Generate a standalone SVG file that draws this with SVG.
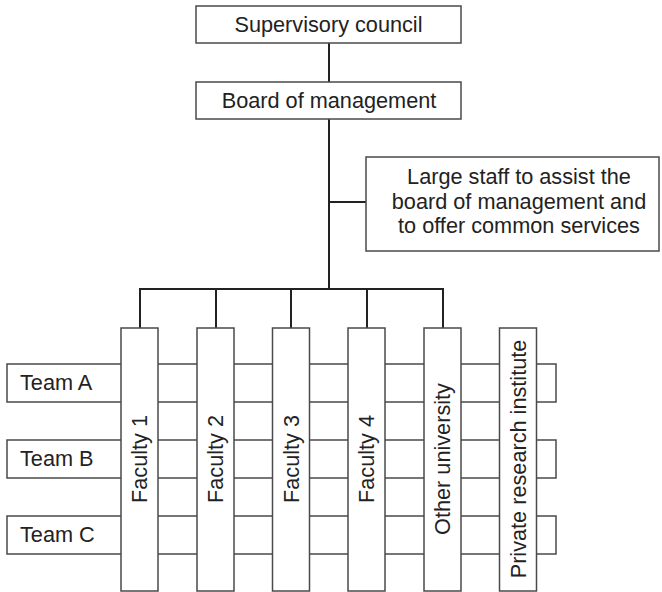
<svg xmlns="http://www.w3.org/2000/svg" width="662" height="592" viewBox="0 0 662 592">
  <style>
    .box { fill: #fff; stroke: #4a4a4a; stroke-width: 1.5; }
    .wire { fill: none; stroke: #222; stroke-width: 2; }
    .lbl { font-family: "Liberation Sans", Arial, sans-serif; font-size: 21.7px; fill: #222; }
    .mid { text-anchor: middle; }
  </style>
  <rect width="662" height="592" fill="#fff"/>

  <!-- hierarchy connectors -->
  <g id="connectors">
    <line class="wire" x1="329" y1="43" x2="329" y2="82"/>
    <line class="wire" x1="329" y1="119" x2="329" y2="289"/>
    <line class="wire" x1="329" y1="202" x2="366" y2="202"/>
    <polyline class="wire" points="140,328 140,289 443,289 443,328"/>
    <line class="wire" x1="216" y1="289" x2="216" y2="328"/>
    <line class="wire" x1="291" y1="289" x2="291" y2="328"/>
    <line class="wire" x1="367" y1="289" x2="367" y2="328"/>
  </g>

  <g id="supervisory-council">
    <rect class="box" x="196" y="6" width="265" height="37"/>
    <text class="lbl mid" x="328.5" y="32">Supervisory council</text>
  </g>

  <g id="board-of-management">
    <rect class="box" x="196" y="82" width="265" height="37"/>
    <text class="lbl mid" x="329" y="108">Board of management</text>
  </g>

  <g id="staff">
    <rect class="box" x="366" y="157" width="293" height="94"/>
    <text class="lbl mid" x="519" y="184">Large staff to assist the</text>
    <text class="lbl mid" x="519" y="208.5">board of management and</text>
    <text class="lbl mid" x="519" y="233">to offer common services</text>
  </g>

  <!-- team rows run behind the columns -->
  <g id="team-a">
    <rect class="box" x="7" y="364" width="549" height="38"/>
    <text class="lbl" x="20" y="390">Team A</text>
  </g>
  <g id="team-b">
    <rect class="box" x="7" y="440" width="549" height="38"/>
    <text class="lbl" x="20" y="466">Team B</text>
  </g>
  <g id="team-c">
    <rect class="box" x="7" y="516" width="549" height="38"/>
    <text class="lbl" x="20" y="542">Team C</text>
  </g>

  <!-- columns -->
  <g id="faculty-1">
    <rect class="box" x="121" y="328" width="37" height="263"/>
    <text class="lbl mid" transform="translate(147,459) rotate(-90)">Faculty 1</text>
  </g>
  <g id="faculty-2">
    <rect class="box" x="197" y="328" width="37" height="263"/>
    <text class="lbl mid" transform="translate(223,459) rotate(-90)">Faculty 2</text>
  </g>
  <g id="faculty-3">
    <rect class="box" x="272.5" y="328" width="37" height="263"/>
    <text class="lbl mid" transform="translate(298.5,459) rotate(-90)">Faculty 3</text>
  </g>
  <g id="faculty-4">
    <rect class="box" x="348" y="328" width="37" height="263"/>
    <text class="lbl mid" transform="translate(374,459) rotate(-90)">Faculty 4</text>
  </g>
  <g id="other-university">
    <rect class="box" x="424" y="328" width="37" height="263"/>
    <text class="lbl mid" transform="translate(450,459) rotate(-90)">Other university</text>
  </g>
  <g id="private-research-institute">
    <rect class="box" x="499.5" y="328" width="37" height="263"/>
    <text class="lbl mid" transform="translate(525.5,459) rotate(-90)">Private research institute</text>
  </g>
</svg>
